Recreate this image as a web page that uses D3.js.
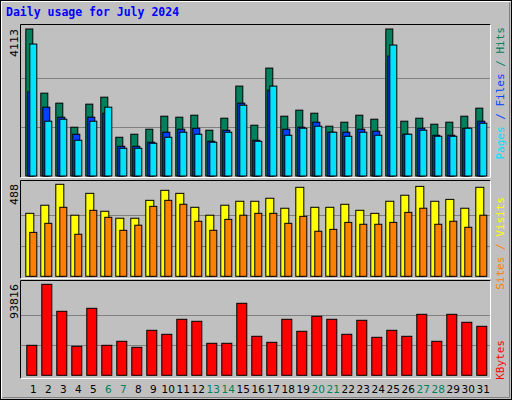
<!DOCTYPE html><html><head><meta charset="utf-8">
<script src="https://cdn.jsdelivr.net/npm/d3@7"></script>
<style>body{margin:0;background:#fff}</style></head><body><svg id="c" width="512" height="400"></svg>
<script>
const days=d3.range(1,32);
const weekend=[6,7,13,14,20,21,27,28];
const hits=[4113,2318,2038,1365,2010,2206,1084,1169,1309,1673,1645,1701,1281,1617,2515,1421,3019,1673,1842,1757,1393,1505,1701,1589,4113,1533,1617,1449,1505,1673,1898];
const files=[2356,1926,1645,1169,1645,1757,832,832,944,1225,1309,1337,972,1281,2038,1000,2402,1309,1365,1505,1225,1225,1309,1253,3356,1169,1337,1140,1140,1337,1533];
const pages=[3692,1533,1589,1000,1533,1926,776,776,916,1084,1225,1169,944,1225,1982,972,2515,1140,1337,1393,1225,1112,1225,1140,3664,1169,1281,1112,1112,1337,1477];
const sites=[334,377,488,324,440,345,308,308,403,456,440,366,324,377,398,398,414,361,472,366,366,382,350,334,398,430,477,398,408,361,472];
const visits=[233,281,366,223,350,313,244,271,371,403,382,292,244,302,324,334,334,281,318,239,249,286,276,276,286,339,361,276,292,260,324];
const kbytes=[30926,93816,65978,29896,69070,30926,35052,28866,46391,42268,57731,55669,32990,32990,74226,40206,34020,57731,45360,60824,57731,42268,56700,39175,46391,40206,62885,35052,62885,54639,50514];
const maxLabels=["4113","488","93816"];

const svg=d3.select("#c");
svg.append("rect").attr("x",0.5).attr("y",0.5).attr("width",511).attr("height",399).attr("fill","#C0C0C0").attr("stroke","#000");
svg.append("path").attr("d","M1.5,398.5V1.5H510.5").attr("stroke","#fff").attr("fill","none");
svg.append("path").attr("d","M2.5,397.5H509.5V2.5").attr("stroke","#808080").attr("fill","none");
svg.append("text").attr("x",6).attr("y",16).text("Daily usage for July 2024")
 .attr("font-family","DejaVu Sans Mono").attr("font-weight","bold").attr("font-size",11.5).attr("fill","#0000FF");

const x=d3.scaleBand().domain(days).range([20.3,485.3]).padding(0);
function panel(y0,y1){
  svg.append("path").attr("d",`M20.5,${y1}V${y0}H490.5`).attr("stroke","#000").attr("fill","none");
  svg.append("path").attr("d",`M20.5,${y1}H490.5V${y0}`).attr("stroke","#fff").attr("fill","none");
}
function grid(y){[1/3,2/3].forEach(f=>{const v=y.domain()[1]*f;
  svg.append("line").attr("x1",21).attr("x2",490).attr("y1",Math.round(y(v))+0.5).attr("y2",Math.round(y(v))+0.5).attr("stroke","#808080");});}
function bars(data,y,off,w,col){
  svg.append("g").selectAll("rect").data(days).join("rect")
   .attr("x",d=>x(d)+off+0.5).attr("width",w).attr("y",(d,i)=>y(data[i])).attr("height",(d,i)=>y(0)-y(data[i]))
   .attr("fill",col).attr("stroke","#000");
}
function ylab(t,ytop){svg.append("text").attr("transform",`translate(18,${ytop}) rotate(-90)`).attr("text-anchor","end")
  .attr("font-family","DejaVu Sans").attr("font-size",11).attr("fill","#000").text(t);}
function rlab(parts,ytop){const t=svg.append("text").attr("transform",`translate(504,${ytop}) rotate(-90)`).attr("text-anchor","end")
  .attr("font-family","DejaVu Sans Mono").attr("font-size",11);
  parts.forEach(([s,c])=>t.append("tspan").attr("fill",c).text(s));}

// top
panel(24.5,177.5);
const y1=d3.scaleLinear().domain([0,4113]).range([176,29]);
grid(y1);
bars(hits,y1,5,7,"#00805C");
bars(files,y1,7,7,"#0040FF");
bars(pages,y1,9,7,"#00E0FF");
ylab(maxLabels[0],29);
rlab([["Pages","#00E0FF"],[" / ","#0040FF"],["Files","#0040FF"],[" / ","#00805C"],["Hits","#00805C"]],27);

// middle
panel(180.5,278.5);
const y2=d3.scaleLinear().domain([0,488]).range([276.3,184.3]);
grid(y2);
bars(sites,y2,5,8,"#FFFF00");
bars(visits,y2,9,7,"#FF8000");
ylab(maxLabels[1],184);
rlab([["Sites","#FF8000"],[" / ","#FF8000"],["Visits","#FFFF00"]],197);

// bottom
panel(280.5,378.5);
const y3=d3.scaleLinear().domain([0,93816]).range([375.3,284.3]);
grid(y3);
bars(kbytes,y3,6,10,"#FF0000");
ylab(maxLabels[2],284);
rlab([["KBytes","#FF0000"]],340);

svg.append("g").selectAll("text").data(days).join("text")
 .attr("x",d=>x(d)+13).attr("y",393).attr("text-anchor","middle")
 .attr("font-family","DejaVu Sans").attr("font-size",10.5)
 .attr("fill",d=>weekend.includes(d)?"#00805C":"#000").text(d=>d);
</script></body></html>
